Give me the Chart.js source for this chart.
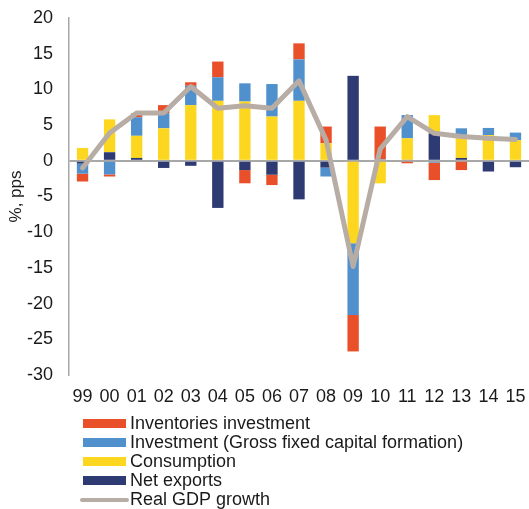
<!DOCTYPE html>
<html>
<head>
<meta charset="utf-8">
<script src="https://cdn.jsdelivr.net/npm/chart.js@4"></script>
<style>
  html, body { margin: 0; padding: 0; background: #fff; }
  #wrap { width: 529px; height: 509px; position: relative; }
</style>
</head>
<body>
<div id="wrap"><canvas id="grafico"></canvas></div>
<script>
// Anos (eixo X)
const anos = ['99', '00', '01', '02', '03', '04', '05', '06', '07', '08', '09', '10', '11', '12', '13', '14', '15'];

// Contribuições ao crescimento, p.p.
const exportacoesLiquidas = [-0.4, 1.2, 0.4, -1.0, -0.7, -6.6, -1.3, -1.95, -5.4, -0.95, 11.9, 0, 0.15, 3.85, 0.4, -1.5, -0.9];
const consumo = [1.8, 4.6, 3.1, 4.55, 7.8, 8.4, 8.3, 6.2, 8.4, 2.45, -11.55, -3.15, 3.0, 2.55, 3.2, 3.6, 2.9];
const investimento = [-1.4, -1.9, 2.6, 2.1, 2.7, 3.3, 2.55, 4.55, 5.8, -1.25, -10.05, 0.2, 3.25, -0.25, 0.95, 1.0, 1.05];
const estoques = [-1.1, -0.3, 0.55, 1.15, 0.5, 2.2, -1.85, -1.45, 2.25, 2.35, -5.1, 4.6, -0.35, -2.45, -1.3, 0, 0];

// Crescimento real do PIB, %
const pibReal = [-1.0, 3.9, 6.7, 6.7, 10.4, 7.35, 7.7, 7.35, 11.2, 2.9, -14.8, 1.65, 6.2, 3.85, 3.4, 3.15, 3.0];

// Ticks do eixo Y
const ticksY = [20, 15, 10, 5, 0, -5, -10, -15, -20, -25, -30];

const fonte = '"Liberation Sans", Arial, sans-serif';
const corTexto = '#1a1a1a';

// Ordem da legenda (como no original)
const ordemLegenda = [3, 2, 1, 0, 4];

// Legenda desenhada no canvas, uma entrada por linha
const legendaPlugin = {
  id: 'legendaVertical',
  afterDraw(chart) {
    const ctx = chart.ctx;
    const ds = chart.data.datasets;
    ctx.save();
    ctx.font = '18px ' + fonte;
    ctx.textBaseline = 'middle';
    ordemLegenda.forEach((idx, i) => {
      const d = ds[idx];
      const y = 423 + i * 19;
      if (d.type === 'line') {
        ctx.strokeStyle = d.borderColor;
        ctx.lineWidth = 4;
        ctx.lineCap = 'round';
        ctx.beginPath();
        ctx.moveTo(82, y + 1);
        ctx.lineTo(127, y + 1);
        ctx.stroke();
      } else {
        ctx.fillStyle = d.backgroundColor;
        ctx.fillRect(83, y - 4, 43, 9);
      }
      ctx.fillStyle = corTexto;
      ctx.fillText(d.label, 130, y + 1);
    });
    ctx.restore();
  }
};

function barra(label, data, cor) {
  return {
    type: 'bar',
    label: label,
    data: data,
    backgroundColor: cor,
    borderWidth: 0,
    barPercentage: 0.42,
    categoryPercentage: 1,
    stack: 'contrib',
    order: 1
  };
}

// Remove o padding automático que o Chart.js reserva para os rótulos
function semPadding(scale) {
  scale.paddingLeft = 0;
  scale.paddingRight = 0;
  scale.paddingTop = 0;
  scale.paddingBottom = 0;
}

new Chart(document.getElementById('grafico'), {
  data: {
    labels: anos,
    datasets: [
      barra('Net exports', exportacoesLiquidas, '#2e3a72'),
      barra('Consumption', consumo, '#fdd71f'),
      barra('Investment (Gross fixed capital formation)', investimento, '#4f90cd'),
      barra('Inventories investment', estoques, '#e9502a'),
      {
        type: 'line',
        label: 'Real GDP growth',
        data: pibReal,
        borderColor: '#b8ada5',
        borderWidth: 5,
        pointRadius: 0,
        borderCapStyle: 'round',
        borderJoinStyle: 'round',
        tension: 0,
        fill: false,
        stack: 'pib',
        order: 0
      }
    ]
  },
  options: {
    responsive: true,
    maintainAspectRatio: false,
    devicePixelRatio: 1,
    animation: false,
    layout: { padding: { top: 18, right: 0, bottom: 102, left: 0 } },
    plugins: {
      legend: { display: false },
      tooltip: { enabled: false }
    },
    scales: {
      x: {
        stacked: true,
        offset: true,
        border: { display: false },
        grid: { display: false, drawTicks: false },
        ticks: {
          color: corTexto,
          font: { family: fonte, size: 18 },
          padding: 11,
          maxRotation: 0,
          autoSkip: false
        },
        afterFit(scale) { scale.height = 32; semPadding(scale); }
      },
      y: {
        stacked: true,
        min: -30,
        max: 20,
        border: { display: true, color: '#a8a8a8', width: 1.5 },
        grid: {
          drawTicks: false,
          color: ctx => ctx.tick && ctx.tick.value === 0 ? '#a8a8a8' : 'rgba(0,0,0,0)',
          lineWidth: 2
        },
        afterBuildTicks(scale) { scale.ticks = ticksY.map(v => ({ value: v })); },
        ticks: {
          color: corTexto,
          font: { family: fonte, size: 18 },
          padding: 16
        },
        title: {
          display: true,
          text: '%, pps',
          color: corTexto,
          font: { family: fonte, size: 17 },
          padding: { top: 6, bottom: 0 }
        },
        afterFit(scale) { scale.width = 69; semPadding(scale); }
      }
    }
  },
  plugins: [legendaPlugin]
});
</script>
</body>
</html>
